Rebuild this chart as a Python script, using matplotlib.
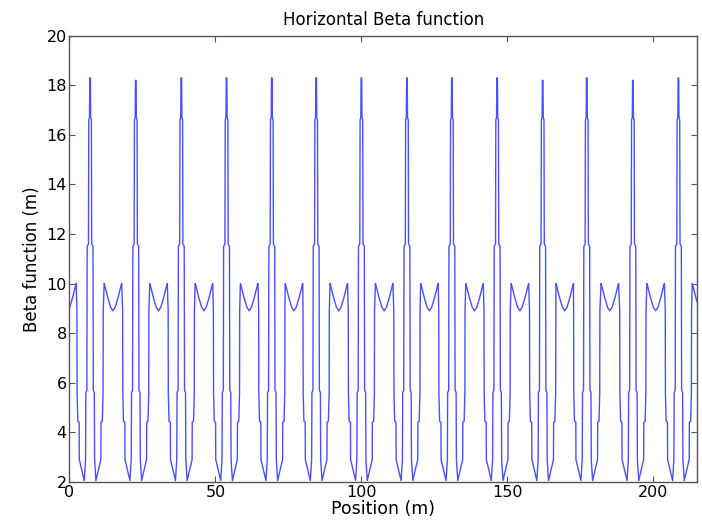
import numpy as np
import matplotlib
matplotlib.use("Agg")
import matplotlib.pyplot as plt

plt.rcParams['font.family'] = ['DejaVu Sans']

# peak positions (m) and peak heights
peak_pos = [7.05, 22.7, 38.3, 53.8, 69.3, 84.5, 100.0, 115.6, 131.0, 146.5,
            162.1, 177.2, 193.0, 208.6]
peak_beta = [18.3, 18.2, 18.3, 18.3, 18.3, 18.3, 18.3, 18.3, 18.3, 18.3,
             18.2, 18.3, 18.2, 18.3]

# half profile around a peak (offset from the peak, beta), left side
peak_ds = [-4.5, -4.45, -4.2, -3.75, -3.7, -2.0, -1.55, -1.45, -1.1,
           -1.0, -0.55, -0.45, -0.2]
peak_b = [8.9, 5.6, 4.45, 4.4, 2.9, 2.05, 2.9, 5.6, 5.7,
          11.5, 11.6, 16.6, 16.7]
peak_top = 0.1

# "V" between two peaks (offset from its middle, beta), left side
v_ds = [-3.0, -2.85, -1.8, -0.8, 0.0]
v_b = [10.0, 9.95, 9.45, 9.05, 8.9]

half_cell = 7.75

# build the curve
s, beta = [], []

def add_v(centre):
    ds = v_ds + [-d for d in v_ds[-2::-1]]
    b = v_b + v_b[-2::-1]
    s.extend([centre + d for d in ds])
    beta.extend(b)

def add_peak(p, h):
    ds = peak_ds + [-peak_top, peak_top] + [-d for d in peak_ds[::-1]]
    b = peak_b + [h, h] + peak_b[::-1]
    s.extend([p + d for d in ds])
    beta.extend(b)

add_v(peak_pos[0] - half_cell)
for i in range(len(peak_pos)):
    add_peak(peak_pos[i], peak_beta[i])
    if i + 1 < len(peak_pos):
        add_v((peak_pos[i] + peak_pos[i + 1]) / 2)
add_v(peak_pos[-1] + half_cell)

fig = plt.figure(figsize=(7.02, 5.26), dpi=100)
ax = fig.add_axes([0.099, 0.084, 0.894, 0.848])
ax.plot(s, beta, color=(0.3, 0.3, 1.0), lw=1.0)

ax.set_xlim(0, 215)
ax.set_ylim(2, 20)
ax.set_xticks([0, 50, 100, 150, 200])
ax.set_yticks(range(2, 21, 2))
ax.tick_params(direction='in', top=True, right=True, length=4,
               labelsize=11.5, colors='#555555', labelcolor='black', pad=2)
for sp in ax.spines.values():
    sp.set_color('#555555')
    sp.set_linewidth(1.0)

ax.set_title('Horizontal Beta function', fontsize=12, pad=8)
ax.set_xlabel('Position (m)', fontsize=12.5, labelpad=0)
ax.set_ylabel('Beta function (m)', fontsize=12, labelpad=4)

fig.savefig('out.png', dpi=100)
